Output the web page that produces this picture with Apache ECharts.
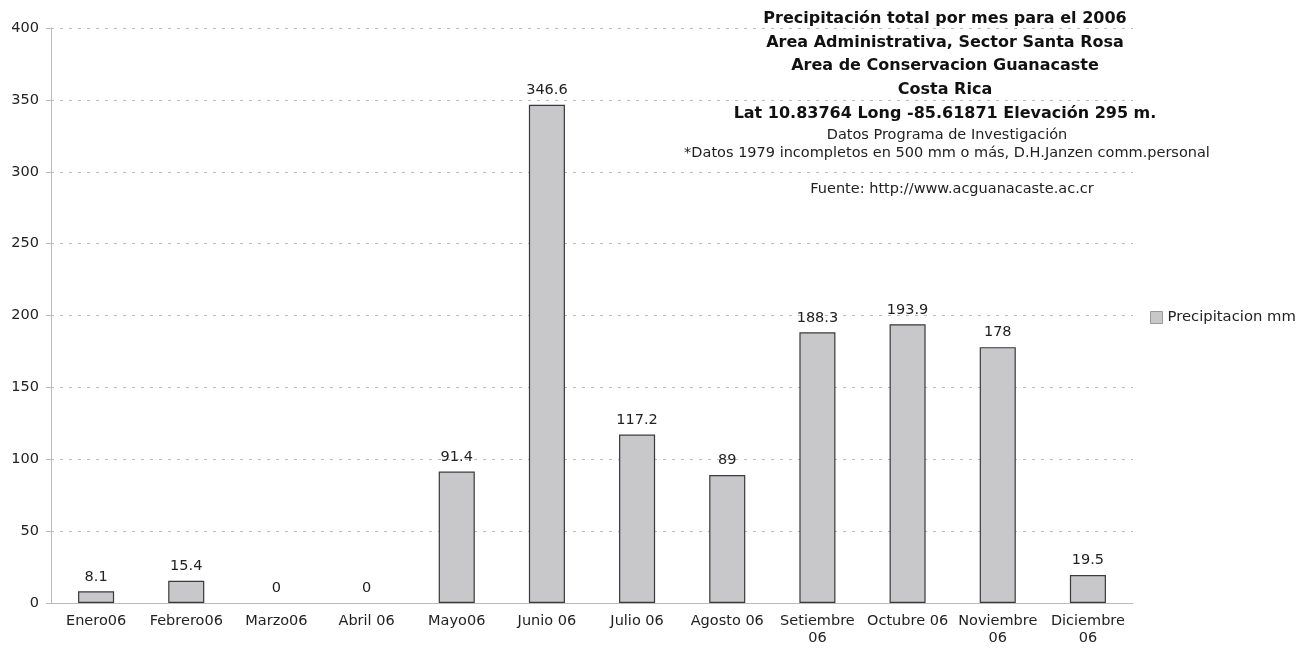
<!DOCTYPE html>
<html>
<head>
<meta charset="utf-8">
<script src="https://cdn.jsdelivr.net/npm/echarts@6/dist/echarts.min.js"></script>
<style>
  html, body { margin: 0; padding: 0; background: #fff; }
  #chart { width: 1310px; height: 654px; }
</style>
</head>
<body>
<div id="chart"></div>
<script>
  // datos
  const months = ['Enero06', 'Febrero06', 'Marzo06', 'Abril 06', 'Mayo06', 'Junio 06',
    'Julio 06', 'Agosto 06', 'Setiembre 06', 'Octubre 06', 'Noviembre 06', 'Diciembre 06']
  const rainfall = [8.1, 15.4, 0, 0, 91.4, 346.6, 117.2, 89, 188.3, 193.9, 178, 19.5]
  const seriesName = 'Precipitacion mm'

  const titleLines = [
    'Precipitación total por mes para el 2006',
    'Area Administrativa, Sector Santa Rosa',
    'Area de Conservacion Guanacaste',
    'Costa Rica',
    'Lat 10.83764 Long -85.61871 Elevación 295 m.'
  ]
  const noteLines = [
    'Datos Programa de Investigación',
    '*Datos 1979 incompletos en 500 mm o más, D.H.Janzen comm.personal'
  ]
  const sourceText = 'Fuente: http://www.acguanacaste.ac.cr'

  const font = 'DejaVu Sans, Verdana, sans-serif'
  const chart = echarts.init(document.getElementById('chart'))

  // barras en cero sin borde, como en el original
  const barData = rainfall.map(v => v === 0 ? { value: v, itemStyle: { borderWidth: 0 } } : v)

  let option = {
    textStyle: { fontFamily: font },
    title: [
      {
        text: titleLines.join('\n'),
        left: 940,
        top: 2,
        textAlign: 'center',
        textStyle: { fontFamily: font, fontSize: 16, fontWeight: 'bold', color: '#111', lineHeight: 23.7 }
      },
      {
        text: noteLines.join('\n'),
        left: 942,
        top: 121,
        textAlign: 'center',
        textStyle: { fontFamily: font, fontSize: 14.5, fontWeight: 'normal', color: '#222', lineHeight: 18 }
      },
      {
        text: sourceText,
        left: 947,
        top: 177,
        textAlign: 'center',
        textStyle: { fontFamily: font, fontSize: 14.5, fontWeight: 'normal', color: '#222' }
      }
    ],
    legend: {
      left: 1145,
      top: 305,
      icon: 'rect',
      itemWidth: 12,
      itemHeight: 12,
      itemGap: 5,
      itemStyle: { borderColor: '#999', borderWidth: 1 },
      textStyle: { fontFamily: font, fontSize: 14.8, color: '#222' },
      data: [seriesName]
    },
    grid: {
      left: 51,
      right: 177,
      top: 28,
      bottom: 51
    },
    xAxis: {
      type: 'category',
      data: months,
      axisLine: { lineStyle: { color: '#bbb' } },
      axisTick: { alignWithLabel: false, length: 5, lineStyle: { color: '#bbb' } },
      axisLabel: {
        color: '#222',
        fontSize: 14.5,
        margin: 10,
        lineHeight: 17,
        interval: 0,
        formatter: v => v.length > 10 ? v.replace(' ', '\n') : v
      }
    },
    yAxis: {
      type: 'value',
      min: 0,
      max: 400,
      interval: 50,
      axisLine: { show: true, lineStyle: { color: '#bbb' } },
      axisTick: { show: true, length: 5, lineStyle: { color: '#bbb' } },
      axisLabel: { color: '#222', fontSize: 14.5, margin: 12 },
      splitLine: { lineStyle: { color: '#bbb', type: [3, 6] } }
    },
    series: [
      {
        name: seriesName,
        type: 'bar',
        data: barData,
        barWidth: '40%',
        itemStyle: { color: '#c8c8ca', borderColor: '#3a3a3a', borderWidth: 1.2 },
        label: {
          show: true,
          position: 'top',
          distance: 7,
          color: '#222',
          fontSize: 14.5,
          fontFamily: font
        }
      }
    ]
  }
  chart.setOption(option)
</script>
</body>
</html>
